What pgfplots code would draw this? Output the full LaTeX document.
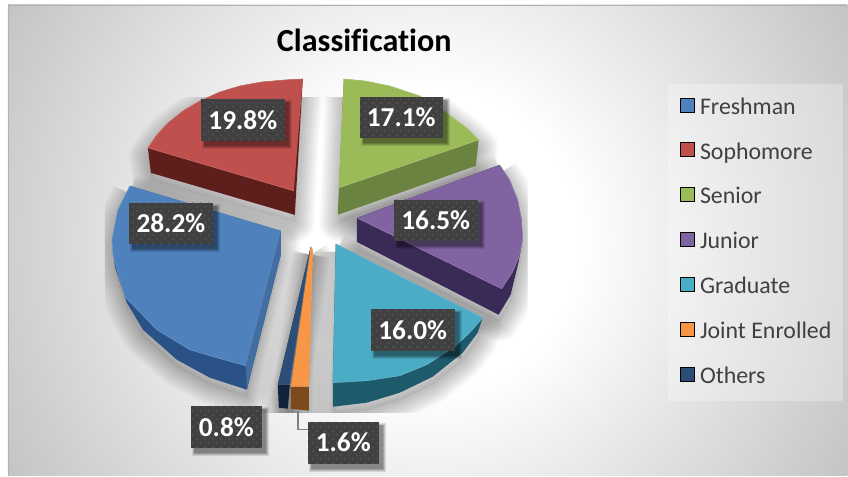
\documentclass[border=0pt]{standalone}
\usepackage{fontspec}
\setmainfont{Carlito}[Ligatures=NoCommon]
\usepackage{pgfplots}
\usepackage{pgfplotstable}
\pgfplotsset{compat=1.18}
\usetikzlibrary{patterns}

\definecolor{cblue}{HTML}{4F81BD}
\definecolor{cred}{HTML}{C0504D}
\definecolor{cgreen}{HTML}{9BBB59}
\definecolor{cpurple}{HTML}{8064A2}
\definecolor{cteal}{HTML}{4BACC6}
\definecolor{corange}{HTML}{F79646}
\definecolor{cnavy}{HTML}{2C4D75}
\definecolor{wblue}{HTML}{2B5287}
\definecolor{wred}{HTML}{5E1E1B}
\definecolor{wgreen}{HTML}{6A8340}
\definecolor{wpurple}{HTML}{3A2A58}
\definecolor{wteal}{HTML}{1D5A6C}
\definecolor{worange}{HTML}{7C4A1C}
\definecolor{wnavy}{HTML}{10233B}
\definecolor{boxdark}{HTML}{404040}
\definecolor{boxdot}{HTML}{5E5E5E}
\definecolor{legtext}{HTML}{404040}
\definecolor{bgedge}{HTML}{C4C4C4}

% outlines in picture pixels: body = whole slice, top = upper face
\pgfplotstableread{
x y
303 79
285 80
262 82
240 86
220 92
200 101
183 111
168 123
157 135
148 148
151 173
295 215
303 79
}\redbody
\pgfplotstableread{
x y
303 79
285 80
262 82
240 86
220 92
200 101
183 111
168 123
157 135
148 148
294 191
}\redtop
\pgfplotstableread{
x y
344 79
365 81
390 86
420 96
443 110
467 128
479 140
476 166
338 215
344 79
}\greenbody
\pgfplotstableread{
x y
344 79
365 81
390 86
420 96
443 110
467 128
479 140
339 188
}\greentop
\pgfplotstableread{
x y
500 165
510 180
518 200
522 220
523 240
519 262
511 295
499 315
357 242
357 218
500 165
}\purplebody
\pgfplotstableread{
x y
500 165
510 180
518 200
522 220
523 240
519 258
513 272
502 289
357 218
}\purpletop
\pgfplotstableread{
x y
336 244
483 318
478 333
463 353
433 377
400 393
367 403
333 407
333 383
336 244
}\tealbody
\pgfplotstableread{
x y
336 244
483 318
470 333
455 347
427 365
400 376
367 381
333 383
}\tealtop
\pgfplotstableread{
x y
130 186
118 210
112 240
115 267
127 303
143 330
177 360
210 378
247 390
281 255
281 231
130 186
}\bluebody
\pgfplotstableread{
x y
130 186
118 210
112 240
113 255
118 273
125 297
157 330
190 350
217 358
246 366
281 231
}\bluetop
\pgfplotstableread{
x y
281 231
281 255
247 390
246 366
}\blueside
\pgfplotstableread{
x y
311 247
290 385
288 409
279 408
278 385
311 247
}\navybody
\pgfplotstableread{
x y
311 247
290 385
278 385
}\navytop
\pgfplotstableread{
x y
311 247
313 250
309 387
309 411
291 409
291 387
311 247
}\orangebody
\pgfplotstableread{
x y
311 247
313 250
309 387
291 387
}\orangetop
\pgfplotstableread{
x y
298 411
298 430
308 430
}\leader

\pgfdeclarepatternformonly{labeldots}{\pgfqpoint{0pt}{0pt}}{\pgfqpoint{6pt}{6pt}}{\pgfqpoint{6pt}{6pt}}{%
  \pgfpathrectangle{\pgfqpoint{1.1pt}{1.1pt}}{\pgfqpoint{0.8pt}{0.8pt}}%
  \pgfpathrectangle{\pgfqpoint{4.1pt}{4.1pt}}{\pgfqpoint{0.8pt}{0.8pt}}%
  \pgfusepath{fill}}

\pgfdeclareradialshading{chartbg}{\pgfpointorigin}{%
  color(0bp)=(white); color(7.8bp)=(white); color(25bp)=(bgedge); color(50bp)=(bgedge)}

\pgfplotsset{
  shad/.style={forget plot,draw=black,draw opacity=0.028,line width=#1,line join=round,yshift=-6pt},
}
\newcommand{\sliceshadow}[1]{%
  \addplot[shad=28pt] table[x=x,y=y] {#1};
  \addplot[shad=25pt] table[x=x,y=y] {#1};
  \addplot[shad=22pt] table[x=x,y=y] {#1};
  \addplot[shad=19pt] table[x=x,y=y] {#1};
  \addplot[shad=16pt] table[x=x,y=y] {#1};
  \addplot[shad=13pt] table[x=x,y=y] {#1};
  \addplot[shad=10pt] table[x=x,y=y] {#1};
  \addplot[shad=7pt] table[x=x,y=y] {#1};
  \addplot[shad=4pt] table[x=x,y=y] {#1};
  \addplot[forget plot,draw=none,fill=black,fill opacity=0.06,yshift=-6pt] table[x=x,y=y] {#1};
}
\newcommand{\slice}[4]{%
  \addplot[forget plot,draw=none,fill=#2] table[x=x,y=y] {#1};
  \addplot[forget plot,draw=#4!75!white,line width=0.3pt,fill=#4] table[x=x,y=y] {#3};
}
\newcommand{\lab}[5]{%
  \fill[black,opacity=0.10] ({#1+1},{#2+1}) rectangle ({#3+7},{#4+8});
  \fill[black,opacity=0.12] ({#1+2},{#2+2}) rectangle ({#3+6},{#4+7});
  \fill[black,opacity=0.15] ({#1+3},{#2+3}) rectangle ({#3+5},{#4+6});
  \fill[black,opacity=0.15] ({#1+3},{#2+3}) rectangle ({#3+4},{#4+5});
  \fill[boxdark] (#1,#2) rectangle (#3,#4);
  \fill[pattern=labeldots,pattern color=boxdot] (#1,#2) rectangle (#3,#4);
  \node[text=white,font=\fontsize{20.5}{20.5}\selectfont\bfseries,inner sep=0pt] at ({(#1+#3)/2},{(#2+#4)/2}) {#5};
}

\begin{document}
\begin{tikzpicture}
% chart area background
\begin{scope}[overlay,x=0.75pt,y=-0.75pt,yshift=357pt]
  \clip (8,5) rectangle (848,476);
  \shade[shading=chartbg] (-54,-242) rectangle (910,722);
\end{scope}
\begin{scope}[x=0.75pt,y=-0.75pt,yshift=357pt]
  \draw[gray!60,line width=0.9pt] (8.5,476) -- (8.5,5.5) -- (848,5.5);
\end{scope}

% soft shadow, cut off at the plot area
\begin{axis}[
  at={(78.75pt,47.25pt)},
  scale only axis,
  width=317.25pt,
  height=236.25pt,
  hide axis,
  xmin=105, xmax=527,
  ymin=98, ymax=413,
  y dir=reverse,
]
\sliceshadow{\redbody}
\sliceshadow{\greenbody}
\sliceshadow{\purplebody}
\sliceshadow{\tealbody}
\sliceshadow{\bluebody}
\sliceshadow{\navybody}
\sliceshadow{\orangebody}
\end{axis}

\begin{axis}[
  scale only axis,
  width=636pt,
  height=357pt,
  hide axis,
  clip=false,
  xmin=0, xmax=848,
  ymin=0, ymax=476,
  y dir=reverse,
  legend style={
    at={(axis cs:668,84)},
    anchor=north west,
    draw=none,
    fill=white,
    fill opacity=0.28,
    text opacity=1,
    inner xsep=9pt,
    inner ysep=10pt,
    font=\fontsize{17.9}{17.9}\selectfont,
    text=legtext,
    /tikz/row sep=18.25pt,
    nodes={inner sep=0pt,text height=11pt,text depth=3pt},
  },
  legend cell align=left,
  legend image code/.code={\fill[#1,fill opacity=1] (0pt,-2.25pt) rectangle (10.5pt,8.25pt);\path[draw=none] (0pt,0pt) -- (15pt,0pt);},
]
% corners of the picture keep the page size
\addplot[forget plot,draw=none,fill=none] coordinates {(0,0) (848,0) (848,476) (0,476)};

\slice{\redbody}{wred}{\redtop}{cred}
\slice{\greenbody}{wgreen}{\greentop}{cgreen}
\slice{\purplebody}{wpurple}{\purpletop}{cpurple}
\slice{\tealbody}{wteal}{\tealtop}{cteal}
\slice{\bluebody}{wblue}{\bluetop}{cblue}
\addplot[forget plot,draw=none,fill=cblue!85!black] table[x=x,y=y] {\blueside};
\slice{\navybody}{wnavy}{\navytop}{cnavy}
\slice{\orangebody}{worange}{\orangetop}{corange}
\addplot[forget plot,draw=black!50,line width=1.1pt] table[x=x,y=y] {\leader};

\lab{201}{99}{285}{141}{19.8\%}
\lab{129}{203}{213}{244}{28.2\%}
\lab{360}{97}{443}{138}{17.1\%}
\lab{394}{200}{478}{241}{16.5\%}
\lab{371}{309}{455}{351}{16.0\%}
\lab{191}{406}{262}{448}{0.8\%}
\lab{308}{422}{379}{464}{1.6\%}

\node[font=\fontsize{24.1}{24.1}\selectfont\bfseries,text=black,inner sep=0pt] at (364.5,40) {Classification};

\addlegendimage{fill=cblue}\addlegendentry{Freshman}
\addlegendimage{fill=cred}\addlegendentry{Sophomore}
\addlegendimage{fill=cgreen}\addlegendentry{Senior}
\addlegendimage{fill=cpurple}\addlegendentry{Junior}
\addlegendimage{fill=cteal}\addlegendentry{Graduate}
\addlegendimage{fill=corange}\addlegendentry{Joint Enrolled}
\addlegendimage{fill=cnavy}\addlegendentry{Others}
\end{axis}
\end{tikzpicture}
\end{document}
